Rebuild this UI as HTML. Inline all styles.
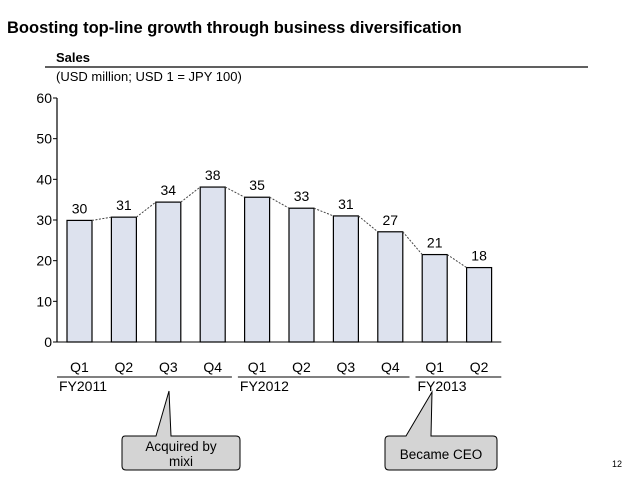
<!DOCTYPE html>
<html><head><meta charset="utf-8"><style>
body{margin:0;background:#fff;font-family:"Liberation Sans",sans-serif;}
svg text{font-family:"Liberation Sans",sans-serif;}
</style></head><body>
<svg width="638" height="479" xmlns="http://www.w3.org/2000/svg">
<text x="7" y="33" font-size="16.5" font-weight="bold" fill="#000">Boosting top-line growth through business diversification</text>
<text x="56" y="62" font-size="13" font-weight="bold">Sales</text>
<line x1="45" y1="67" x2="588" y2="67" stroke="#000" stroke-width="1.2"/>
<text x="56" y="81" font-size="13">(USD million; USD 1  = JPY 100)</text>
<g id="axis"></g>
<g id="bars"></g>
<g id="xlab"></g>
<path d="M125,436 L156,436 L169,391 L171,436 L236,436 Q240,436 240,440 L240,466 Q240,470 236,470 L126,470 Q122,470 122,466 L122,440 Q122,436 125,436 Z" fill="#d4d4d4" stroke="#000"/>
<text x="181" y="451" font-size="13.5" text-anchor="middle"><tspan x="181">Acquired by</tspan><tspan x="181" dy="15">mixi</tspan></text>
<path d="M389,436 L406,436 L432,392 L431,436 L493,436 Q497,436 497,440 L497,466 Q497,470 493,470 L389,470 Q385,470 385,466 L385,440 Q385,436 389,436 Z" fill="#d4d4d4" stroke="#000"/>
<text x="441" y="459" font-size="13.5" text-anchor="middle">Became CEO</text>
<text x="612" y="467" font-size="9">12</text>
</svg>
<script>
const quarters=["Q1","Q2","Q3","Q4","Q1","Q2","Q3","Q4","Q1","Q2"];
const values=[29.9,30.7,34.4,38.1,35.6,32.9,31.0,27.1,21.5,18.3];
const valueLabels=["30","31","34","38","35","33","31","27","21","18"];
const yTicks=[0,10,20,30,40,50,60];
const fiscalYears=["FY2011","FY2012","FY2013"];
const fyStart=[0,4,8];
const fyLen=[4,4,2];
const NS="http://www.w3.org/2000/svg";
const y0=342,yTop=98,yMax=60,x0=57,pitch=44.4,firstC=79.5,bw=25;
const Y=v=>y0-(y0-yTop)*v/yMax;
const X=i=>firstC+i*pitch;
function mk(p,tag,a,t){const e=document.createElementNS(NS,tag);for(const k in a)e.setAttribute(k,a[k]);if(t!==undefined)e.textContent=t;p.appendChild(e);return e;}
const ax=document.getElementById('axis'),bars=document.getElementById('bars'),xl=document.getElementById('xlab');
let e=mk(ax,'line',{x1:x0,y1:yTop,x2:x0,y2:y0,stroke:'#000','stroke-width':1.2});


yTicks.forEach(t=>{
 let l=mk(ax,'line',{x1:x0-4,y1:Y(t),x2:x0,y2:Y(t),stroke:'#000'});
 
 
 let tx=mk(ax,'text',{x:x0-5,y:Y(t)+5,'font-size':14,'text-anchor':'end'},t);
 
 
});
let pts=[];
values.forEach((v,i)=>{
 const cx=X(i);
 let r=mk(bars,'rect',{x:cx-bw/2,y:Y(v),width:bw,height:y0-Y(v),fill:'#dde2ee',stroke:'#000','stroke-width':1.2});
 
 
 let t=mk(bars,'text',{x:cx,y:Y(v)-7,'font-size':14,'text-anchor':'middle'},valueLabels[i]);
 
 
 if(i>0)pts.push([X(i-1)+bw/2,Y(values[i-1]),cx-bw/2,Y(v)]);
});
pts.forEach(p=>{let l=mk(bars,'line',{x1:p[0],y1:p[1],x2:p[2],y2:p[3],stroke:'#444','stroke-dasharray':'2,1.5'});
 
 });
e=mk(xl,'line',{x1:x0,y1:y0,x2:X(values.length-1)+pitch/2,y2:y0,stroke:'#000'});


quarters.forEach((q,i)=>{let t=mk(xl,'text',{x:X(i),y:372,'font-size':14,'text-anchor':'middle'},q);
 
 });
fiscalYears.forEach((f,k)=>{
 const a=X(fyStart[k])-pitch/2+ (k==0?0:3), b=X(fyStart[k]+fyLen[k]-1)+pitch/2-(k==2?0:3);
 let l=mk(xl,'line',{x1:k==0?x0:a,y1:377,x2:b,y2:377,stroke:'#000'});
 
 
 let t=mk(xl,'text',{x:(k==0?x0:a)+2,y:391,'font-size':14},f);
 
 
});
</script>
</body></html>
